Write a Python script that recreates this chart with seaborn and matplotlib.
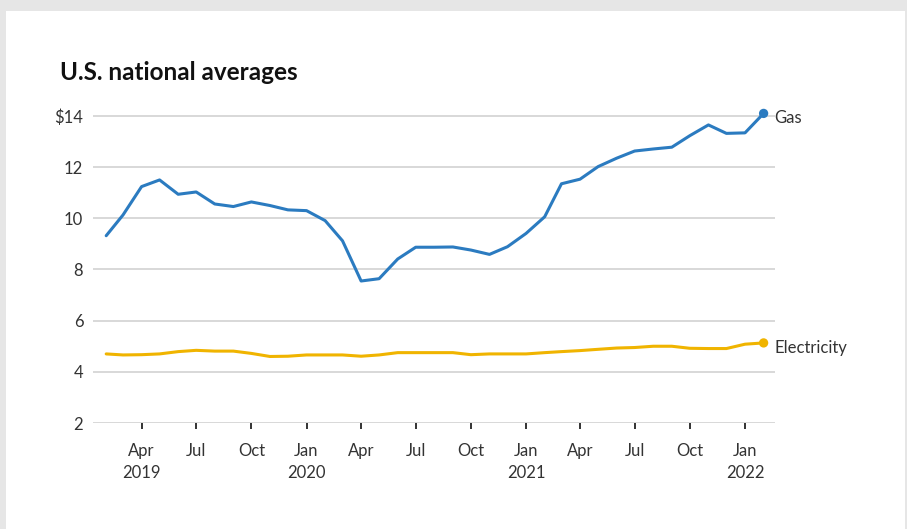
import matplotlib
matplotlib.use("Agg")
import matplotlib.pyplot as plt
import matplotlib.dates as mdates
from matplotlib.patches import Rectangle
import seaborn as sns
import pandas as pd

# ---- data ----
months = pd.date_range("2019-02-01", periods=37, freq="MS")
gas = [9.32, 10.13, 11.24, 11.50, 10.94, 11.03, 10.56, 10.46, 10.64, 10.50,
       10.33, 10.30, 9.91, 9.12, 7.55, 7.64, 8.41, 8.87, 8.87, 8.88,
       8.76, 8.59, 8.89, 9.41, 10.06, 11.35, 11.53, 12.02, 12.35, 12.63,
       12.71, 12.78, 13.23, 13.65, 13.32, 13.34, 14.10]
electricity = [4.70, 4.66, 4.67, 4.70, 4.79, 4.84, 4.81, 4.81, 4.72, 4.60,
               4.61, 4.66, 4.66, 4.66, 4.61, 4.66, 4.75, 4.75, 4.75, 4.75,
               4.67, 4.70, 4.70, 4.70, 4.75, 4.79, 4.83, 4.88, 4.93, 4.95,
               5.00, 5.00, 4.92, 4.91, 4.91, 5.08, 5.13]
series_names = ["Gas", "Electricity"]
series_colors = ["#2b7bc0", "#f0b400"]
title = "U.S. national averages"
x_tick_dates = pd.to_datetime(["2019-04-01", "2019-07-01", "2019-10-01", "2020-01-01",
                               "2020-04-01", "2020-07-01", "2020-10-01", "2021-01-01",
                               "2021-04-01", "2021-07-01", "2021-10-01", "2022-01-01"])
x_tick_labels = ["Apr\n2019", "Jul", "Oct", "Jan\n2020", "Apr", "Jul", "Oct",
                 "Jan\n2021", "Apr", "Jul", "Oct", "Jan\n2022"]
y_ticks = [2, 4, 6, 8, 10, 12, 14]
y_tick_labels = ["2", "4", "6", "8", "10", "12", "\\$14"]

df = pd.DataFrame({
    "month": list(months) * 2,
    "value": gas + electricity,
    "series": ["Gas"] * len(gas) + ["Electricity"] * len(electricity),
})
last = df.groupby("series", sort=False).tail(1)

# ---- style ----
sns.set_theme(style="white")
plt.rcParams["font.family"] = ["Lato", "DejaVu Sans"]
text_color = "#333333"

fig = plt.figure(figsize=(9.07, 5.29), dpi=100)
fig.patch.set_facecolor("#e6e6e6")
fig.patches.append(Rectangle((6 / 907, 0), 899 / 907, 1 - 11 / 529,
                             transform=fig.transFigure, facecolor="white",
                             edgecolor="none", zorder=-10))

ax = fig.add_axes([93 / 907, 1 - 423 / 529, (775 - 93) / 907, (423 - 108.3) / 529])
ax.set_zorder(1)
ax.set_facecolor("none")

palette = dict(zip(series_names, series_colors))
sns.lineplot(data=df, x="month", y="value", hue="series", palette=palette,
             linewidth=2.2, ax=ax, legend=False, zorder=3)
sns.scatterplot(data=last, x="month", y="value", hue="series", palette=palette,
                s=45, edgecolor="none", ax=ax, legend=False, zorder=4, clip_on=False)

for _, row in last.iterrows():
    ax.annotate(row["series"], (mdates.date2num(row["month"]), row["value"]),
                xytext=(8, -3.5), textcoords="offset points", va="center", ha="left",
                fontsize=12, color=text_color)

ax.set_xlim(pd.Timestamp("2019-01-10"), pd.Timestamp("2022-02-20"))
ax.set_ylim(2, 14.3)
ax.set_yticks(y_ticks)
ax.set_yticklabels(y_tick_labels)
ax.set_xticks(x_tick_dates)
ax.set_xticklabels(x_tick_labels, linespacing=1.45)
ax.set_xlabel("")
ax.set_ylabel("")

for s in ax.spines.values():
    s.set_visible(False)
ax.grid(axis="y", color="#d6d6d6", linewidth=1.3)
ax.grid(axis="x", visible=False)
ax.tick_params(axis="y", length=0, pad=7, labelsize=12, labelcolor=text_color)
ax.tick_params(axis="x", direction="out", length=4, width=1.4, color="#333333",
               pad=10.5, labelsize=12, labelcolor=text_color, bottom=True)

fig.text(60 / 907, 1 - 72 / 529, title, fontsize=17.5, fontweight="bold",
         color="#111111", va="center", ha="left")

fig.savefig("out.png", dpi=100, facecolor=fig.get_facecolor())
